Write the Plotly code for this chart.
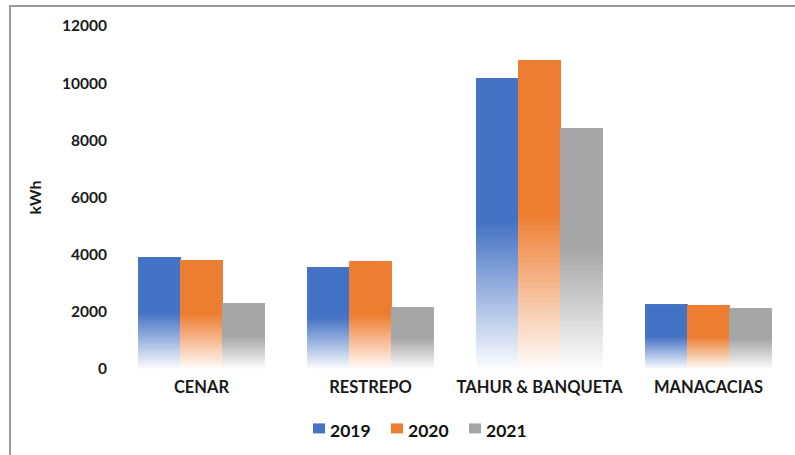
import plotly.graph_objects as go

# Energy consumption per site and year
categories = ["CENAR", "RESTREPO", "TAHUR & BANQUETA", "MANACACIAS"]
years = ["2019", "2020", "2021"]
kwh_2019 = [3910, 3560, 10170, 2255]
kwh_2020 = [3805, 3775, 10800, 2230]
kwh_2021 = [2290, 2160, 8435, 2115]
y_ticks = [0, 2000, 4000, 6000, 8000, 10000, 12000]

colors = [(68, 114, 196), (237, 125, 49), (165, 165, 165)]
series = list(zip(years, [kwh_2019, kwh_2020, kwh_2021], colors))

BAR_W = 0.745 / 3
N_STEPS = 48
FONT = "Lato"
TXT = "#1a1a1a"

# plot area geometry in pixels (used for the hand-placed legend and frame)
L, R, T, B = 117, 2, 26, 85.5
W, H = 795, 455
PW, PH = W - L - R, H - T - B


def px_x(px):
    return (px - L) / PW


def px_y(py):
    return (H - B - py) / PH


def mix(rgb, w):
    """Blend rgb with white; w=1 is full colour, w=0 is white."""
    r, g, b = (round(255 + (c - 255) * w) for c in rgb)
    return f"rgb({r},{g},{b})"


fig = go.Figure()
x_idx = list(range(len(categories)))

for i, (name, vals, rgb) in enumerate(series):
    offset = -1.5 * BAR_W + i * BAR_W
    # Lower half of each bar fades toward white; pieces run from their base
    # to the bar top so that later pieces cover earlier ones without seams.
    for k in range(N_STEPS):
        frac = k / N_STEPS * 0.5
        w = 0.03 + 0.97 * (k / N_STEPS)
        bases = [v * frac for v in vals]
        heights = [v - b for v, b in zip(vals, bases)]
        fig.add_trace(go.Bar(
            x=x_idx, y=heights, base=bases, width=BAR_W, offset=offset,
            marker=dict(color=mix(rgb, w), line=dict(width=0)),
            showlegend=False, hoverinfo="skip",
        ))
    # Solid upper half
    fig.add_trace(go.Bar(
        x=x_idx, y=[v * 0.5 for v in vals], base=[v * 0.5 for v in vals],
        width=BAR_W, offset=offset, name=name, showlegend=False,
        marker=dict(color=mix(rgb, 1.0), line=dict(width=0)),
        customdata=vals, hovertemplate="%{customdata}<extra>" + name + "</extra>",
    ))

# Legend row: swatch + year label, laid out left to right
shapes = [dict(
    type="rect", xref="paper", yref="paper",
    x0=px_x(10), x1=1.2, y0=-0.6, y1=px_y(6),
    line=dict(color="#9a9a9a", width=2), fillcolor="rgba(0,0,0,0)",
    layer="below",
)]
annotations = []
legend_x0 = 313
legend_step = 78
for i, (name, _, rgb) in enumerate(series):
    sx = legend_x0 + i * legend_step
    shapes.append(dict(
        type="rect", xref="paper", yref="paper",
        x0=px_x(sx), x1=px_x(sx + 12), y0=px_y(434), y1=px_y(424),
        line=dict(width=0), fillcolor=mix(rgb, 1.0),
    ))
    annotations.append(dict(
        text=name, xref="paper", yref="paper", x=px_x(sx + 15), y=px_y(431),
        xanchor="left", yanchor="middle", showarrow=False,
        font=dict(family=FONT, size=17.5, color="#111111", weight="bold"),
    ))

fig.update_layout(
    width=W, height=H,
    margin=dict(l=L, r=R, t=T, b=B),
    paper_bgcolor="white", plot_bgcolor="white",
    barmode="overlay",
    font=dict(family=FONT, size=15, color=TXT),
    showlegend=False,
    xaxis=dict(
        tickmode="array", tickvals=x_idx, ticktext=categories,
        range=[-0.5, 3.5], showgrid=False, zeroline=False, showline=False,
        ticks="", ticklen=0, ticklabelstandoff=6,
        tickfont=dict(family=FONT, size=16.5, color=TXT, weight="bold"),
    ),
    yaxis=dict(
        range=[0, 12000], tickmode="array", tickvals=y_ticks,
        ticktext=[str(t) for t in y_ticks],
        showgrid=False, zeroline=False, showline=False, ticks="",
        ticklabelstandoff=9,
        tickfont=dict(family=FONT, size=15.5, color=TXT, weight="bold"),
        title=dict(text="kWh", standoff=16,
                   font=dict(family=FONT, size=16, color=TXT, weight="bold")),
    ),
    shapes=shapes,
    annotations=annotations,
)

fig.write_html("out.html")
